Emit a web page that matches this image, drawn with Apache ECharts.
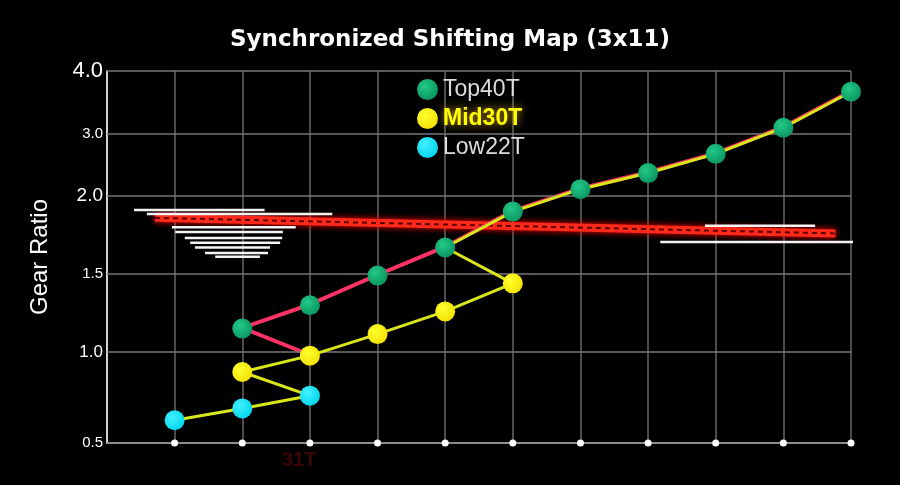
<!DOCTYPE html>
<html><head><meta charset="utf-8">
<script src="https://cdn.jsdelivr.net/npm/echarts@6/dist/echarts.min.js"></script>
<style>html,body{margin:0;background:#000}#c{width:900px;height:485px}</style>
</head><body><div id="c"></div>
<script>
const tickValues = [0.5, 1.0, 1.5, 2.0, 3.0, 4.0];
const tickLabels = ['0.5', '1.0', '1.5', '2.0', '3.0', '4.0'];
const topX = [2,3,4,5,6,7,8,9,10,11];
const topY = [1.15,1.30,1.49,1.67,1.90,2.11,2.37,2.68,3.10,3.67];
const midX = [2,3,4,5,6];
const midY = [0.89,0.98,1.115,1.26,1.44];
const lowX = [1,2,3];
const lowY = [0.625,0.69,0.76];
const redPath = [['mid',1],['top',0],['top',1],['top',2],['top',3],['top',4],['top',5],['top',6],['top',7],['top',8],['top',9]];
const yellowPath = [['low',0],['low',1],['low',2],['mid',0],['mid',1],['mid',2],['mid',3],['mid',4],['top',3],['top',4],['top',5],['top',6],['top',7],['top',8],['top',9]];
const chainX = [0.71, 10.77];
const chainY = [1.86, 1.76];
const stripes = [[0.40,2.33,1.91],[0.59,3.33,1.885],[0.96,2.79,1.80],[1.01,2.60,1.77],[1.15,2.59,1.73],[1.23,2.56,1.70],[1.30,2.41,1.67],[1.45,2.38,1.635],[1.60,2.26,1.61],[8.84,10.47,1.81],[8.18,11.09,1.705]];

const tickPos = [0, 91, 169, 247, 309, 372];
function pos(v){
  for(let i=0;i<tickValues.length-1;i++){
    if(v<=tickValues[i+1]||i===tickValues.length-2){
      const t=(v-tickValues[i])/(tickValues[i+1]-tickValues[i]);
      return tickPos[i]+t*(tickPos[i+1]-tickPos[i]);
    }
  }
}
const sets={top:[topX,topY],mid:[midX,midY],low:[lowX,lowY]};
const pt=(k,i)=>[sets[k][0][i], pos(sets[k][1][i])];
const ball=(c1,c2)=>({type:'radial',x:0.38,y:0.35,r:0.7,colorStops:[{offset:0,color:c1},{offset:1,color:c2}]});
const stripeData=[];
stripes.forEach(s=>{stripeData.push([s[0],pos(s[2])],[s[1],pos(s[2])],[null,null]);});
const labelSizes={'4.0':22,'3.0':15,'2.0':19,'1.5':15,'1.0':17,'0.5':15};

const chart=echarts.init(document.getElementById('c'));
chart.setOption({
  backgroundColor:'#000',
  animation:false,
  title:{text:'Synchronized Shifting Map (3x11)',left:'center',top:24,textStyle:{color:'#fff',fontSize:23,fontWeight:'bold',fontFamily:'DejaVu Sans'}},
  legend:{orient:'vertical',left:412,top:73,itemGap:6,itemWidth:21,itemHeight:21,icon:'circle',
    data:[{name:'Top40T',textStyle:{color:'#ddd'}},{name:'Mid30T',textStyle:{color:'#ffff00',fontWeight:'bold',textShadowColor:'#cc9900',textShadowBlur:8}},{name:'Low22T',textStyle:{color:'#ddd'}}],
    textStyle:{fontSize:23,fontFamily:'Liberation Sans'}},
  grid:{left:107,right:49,top:71,bottom:42},
  xAxis:{type:'value',min:0,max:11,interval:1,axisLabel:{show:false},axisTick:{show:false},
    axisLine:{lineStyle:{color:'#ccc',width:2}},splitLine:{show:true,lineStyle:{color:'#666',width:1.5}}},
  yAxis:{type:'value',min:0,max:372,axisLabel:{show:false},axisTick:{show:false},splitLine:{show:false},
    name:'Gear Ratio',nameLocation:'middle',nameGap:55,nameTextStyle:{color:'#fff',fontSize:24,fontFamily:'Liberation Sans'},
    axisLine:{show:true,lineStyle:{color:'#fff',width:1.5}}},
  graphic:[{type:'text',left:282,top:450,style:{text:'31T',fill:'#3a0505',font:'bold 20px Liberation Sans'}}],
  series:[
    {type:'line',silent:true,data:[],markLine:{silent:true,symbol:'none',
      lineStyle:{color:'#777',width:1.5,type:'solid'},
      label:{position:'start',color:'#fff',fontFamily:'Liberation Sans',distance:4},
      data:tickValues.map((v,i)=>({yAxis:pos(v),label:{formatter:tickLabels[i],fontSize:labelSizes[tickLabels[i]]}}))}},
    {type:'line',data:chainX.map((x,i)=>[x,pos(chainY[i])]),symbol:'none',lineStyle:{color:'#ff2a1a',width:8,shadowColor:'#ff0000',shadowBlur:6},z:2},
    {type:'line',data:chainX.map((x,i)=>[x,pos(chainY[i])]),symbol:'none',lineStyle:{color:'#5a0000',width:2,type:[5,4]},z:3},
    {type:'line',data:stripeData,symbol:'none',connectNulls:false,lineStyle:{color:'#f4f4f4',width:2.5},z:2},
    {type:'line',data:redPath.map(p=>pt(p[0],p[1])),symbol:'none',lineStyle:{color:'#ff3366',width:2.5,shadowColor:'#ff3366',shadowOffsetY:-1.5,shadowBlur:0},z:4},
    {type:'line',data:yellowPath.map(p=>pt(p[0],p[1])),symbol:'none',lineStyle:{color:'#d8e61a',width:3},z:5},
    {type:'scatter',data:[1,2,3,4,5,6,7,8,9,10,11].map(x=>[x,0]),symbolSize:7,itemStyle:{color:'#fff',opacity:1},z:6},
    {name:'Top40T',type:'scatter',data:topX.map((x,i)=>[x,pos(topY[i])]),symbolSize:20,itemStyle:{color:ball('#22c987','#0b9460'),opacity:1},z:7},
    {name:'Mid30T',type:'scatter',data:midX.map((x,i)=>[x,pos(midY[i])]),symbolSize:20,itemStyle:{color:ball('#ffff30','#f2e000'),opacity:1},z:7},
    {name:'Low22T',type:'scatter',data:lowX.map((x,i)=>[x,pos(lowY[i])]),symbolSize:20,itemStyle:{color:ball('#44f0ff','#00d4ee'),opacity:1},z:7}
  ]
});
</script></body></html>
